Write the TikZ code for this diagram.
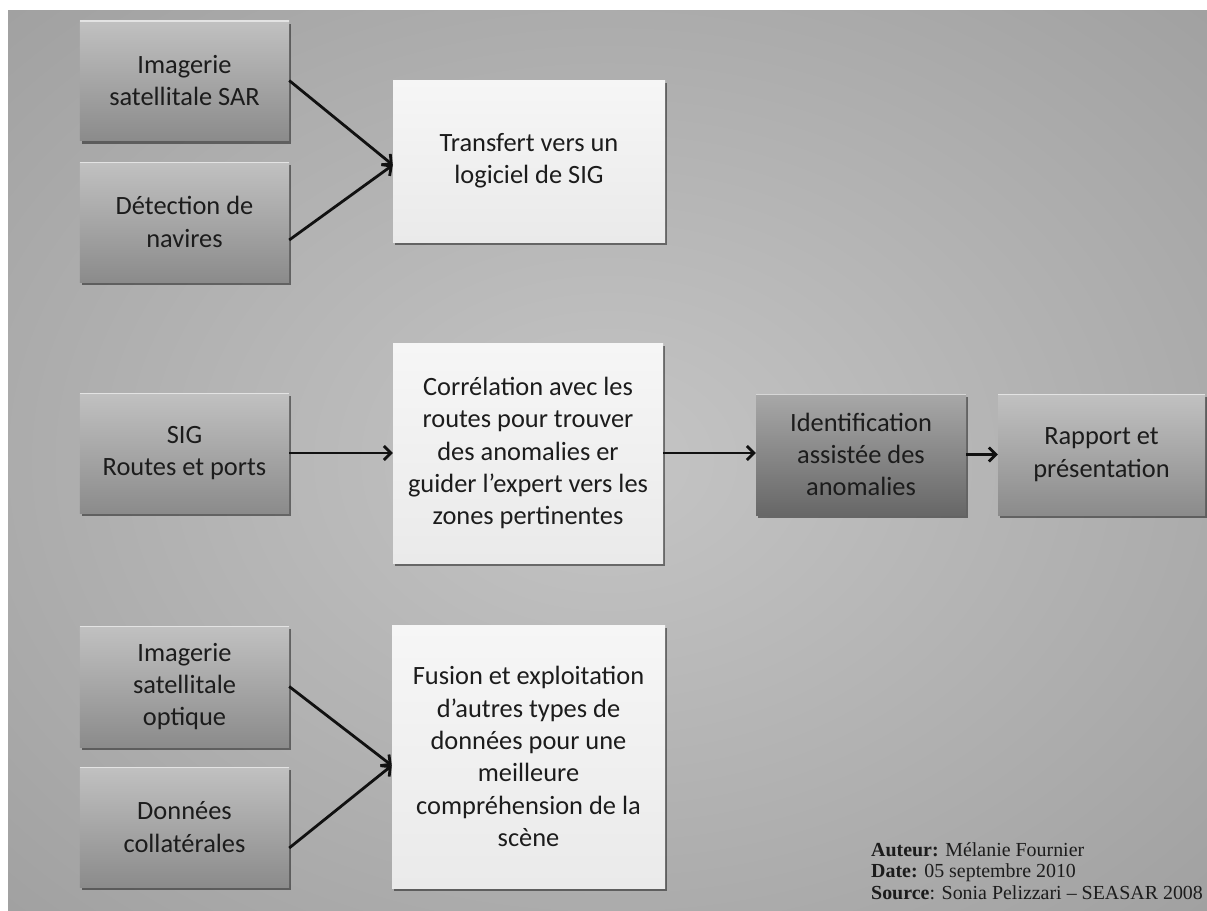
\documentclass[tikz,border=0pt]{standalone}
\usepackage{fontspec}
\setmainfont{Carlito}
\newfontfamily\timesfont{Liberation Serif}
\usetikzlibrary{arrows.meta,shadows}
\definecolor{bgcA}{HTML}{C5C5C5}
\definecolor{bgcB}{HTML}{929292}
\definecolor{bgcC}{HTML}{727272}
\definecolor{gbtop}{HTML}{C1C1C1}
\definecolor{gbbot}{HTML}{8B8B8B}
\definecolor{dbtop}{HTML}{A8A8A8}
\definecolor{dbbot}{HTML}{676767}
\definecolor{wbtop}{HTML}{F6F6F6}
\definecolor{wbbot}{HTML}{EAEAEA}
\definecolor{txt}{HTML}{1C1C1C}
\definecolor{arr}{HTML}{111111}
\pgfdeclareradialshading{bgshade}{\pgfpoint{0bp}{0bp}}{color(0bp)=(bgcA); color(50bp)=(bgcB); color(72bp)=(bgcC)}
\begin{document}
\begin{tikzpicture}[x=1bp,y=-1bp,
  boxbase/.style={rectangle, inner sep=3bp, align=center, text=txt,
    font=\fontsize{26.5}{32.5}\selectfont,
    drop shadow={shadow xshift=2bp, shadow yshift=-3bp, opacity=0.45, fill=black}},
  graybox/.style={boxbase, minimum width=209bp, minimum height=120bp,
    top color=gbtop, bottom color=gbbot,
    path picture={\draw[white, opacity=0.55, line width=2bp]
      (path picture bounding box.north west) -- (path picture bounding box.north east);}},
  darkbox/.style={graybox, top color=dbtop, bottom color=dbbot},
  whitebox/.style={boxbase, minimum width=272bp, top color=wbtop, bottom color=wbbot},
  conn/.style={draw=arr, line width=2.8bp, -{Straight Barb[length=7bp,width=14bp]}}
]
\useasboundingbox (0,0) rectangle (1207,911);
\fill[white] (0,0) rectangle (1207,911);
\shade[shading=bgshade] (8,10) rectangle (1207,911);

% left column
\node[graybox] (A) at (184.5,80.5) {Imagerie\\satellitale SAR};
\node[graybox] (B) at (184.5,222) {Détection de\\navires};
\node[graybox] (D) at (184.5,453) {SIG\\Routes et ports};
\node[graybox, minimum height=121bp] (H) at (184.5,686.5) {Imagerie\\satellitale\\optique};
\node[graybox] (I) at (184.5,827) {Données\\collatérales};

% white boxes
\node[whitebox, minimum height=162bp] (C) at (529,161) {Transfert vers un\\logiciel de SIG};
\node[whitebox, minimum height=220bp, minimum width=270bp] (E) at (528,453)
  {Corrélation avec les\\routes pour trouver\\des anomalies er\\guider l’expert vers les\\zones pertinentes};
\node[whitebox, minimum height=263bp, minimum width=273bp] (J) at (528.5,756.5)
  {Fusion et exploitation\\d’autres types de\\données pour une\\meilleure\\compréhension de la\\scène};

% right boxes
\node[darkbox, minimum width=210bp, minimum height=121bp] (F) at (861,454.5) {Identification\\assistée des\\anomalies};
\node[graybox, minimum width=207bp, minimum height=121bp] (G) at (1101.5,454.5) {Rapport et\\présentation};

% connectors
\draw[conn] (A.east) -- ([yshift=-4bp]C.west);
\draw[conn] ([yshift=-18bp]B.east) -- ([yshift=-4bp]C.west);
\draw[conn] (D.east) -- (E.west);
\draw[conn] (E.east) -- (E.east -| F.west);
\draw[conn] (F.east) -- (G.west);
\draw[conn] (H.east) -- ([yshift=-9bp]J.west);
\draw[conn] ([yshift=-21bp]I.east) -- ([yshift=-9bp]J.west);

% footer
\node[anchor=north west, align=left, inner sep=0, text=txt,
  font=\timesfont\fontsize{20}{22}\selectfont] (foot) at (871,842)
  {\textbf{Auteur:} Mélanie Fournier\\\textbf{Date:} 05 septembre 2010\\\textbf{Source}: Sonia Pelizzari – SEASAR 2008};
\end{tikzpicture}
\end{document}
